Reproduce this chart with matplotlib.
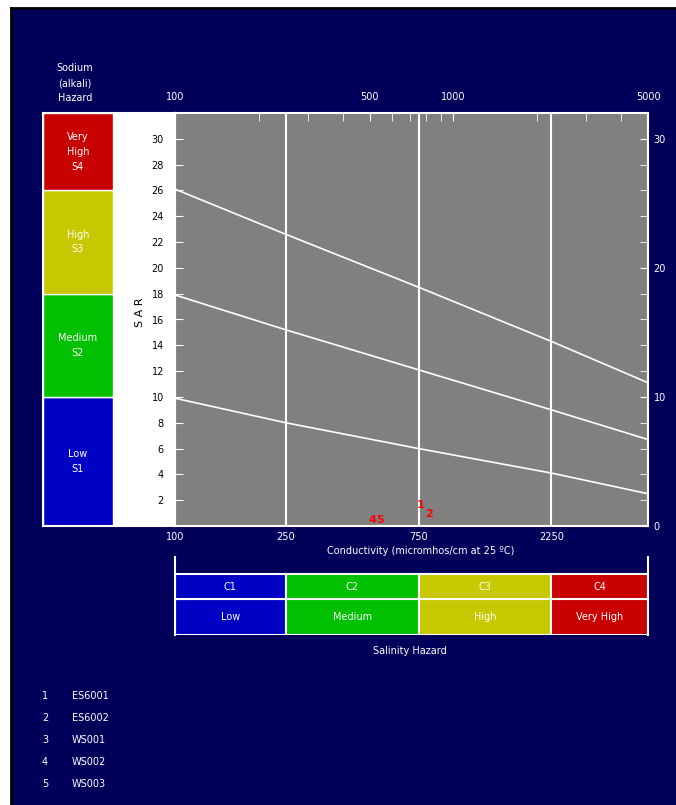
import numpy as np
import matplotlib
matplotlib.use("Agg")
import matplotlib.pyplot as plt
from matplotlib.ticker import FixedLocator, NullFormatter, NullLocator

# conductivity (micromhos/cm) where the class boundaries are read
ec_grid = [100, 250, 750, 2250, 5000]
# SAR boundary lines between sodium classes
sar_s1_s2 = [9.9, 8.0, 6.0, 4.1, 2.5]
sar_s2_s3 = [17.9, 15.2, 12.1, 9.0, 6.7]
sar_s3_s4 = [26.1, 22.6, 18.5, 14.3, 11.1]

sodium_bounds = [0, 10, 18, 26, 32]
sodium_labels = ["Low\nS1", "Medium\nS2", "High\nS3", "Very\nHigh\nS4"]
salinity_codes = ["C1", "C2", "C3", "C4"]
salinity_labels = ["Low", "Medium", "High", "Very High"]
hazard_colors = ["#0000c4", "#00c000", "#c8c800", "#c80000"]

sample_ids = ["1", "2", "3", "4", "5"]
sample_names = ["ES6001", "ES6002", "WS001", "WS002", "WS003"]
sample_ec = [760, 815, np.nan, 510, 545]
sample_sar = [1.6, 0.9, np.nan, 0.5, 0.5]

navy = "#00005a"
gray = "#808080"
W, H = 676, 805
plt.rcParams["font.family"] = "DejaVu Sans"
plt.rcParams["font.size"] = 7


def box(x0, y0, x1, y1):
    # pixel box (top-left origin) -> figure fraction rect
    return [x0 / W, 1 - y1 / H, (x1 - x0) / W, (y1 - y0) / H]


fig = plt.figure(figsize=(W / 100, H / 100), dpi=100, facecolor="white")
bg = fig.add_axes(box(11, 8, W, H))
bg.set_facecolor(navy)
bg.set_xticks([])
bg.set_yticks([])
for s in ["left", "top"]:
    bg.spines[s].set_color("black")
    bg.spines[s].set_linewidth(2)
for s in ["right", "bottom"]:
    bg.spines[s].set_visible(False)

# sodium hazard panel on the left
pan = fig.add_axes(box(43, 113, 175, 526))
pan.set_facecolor("white")
pan.set_xlim(0, 1)
pan.set_ylim(0, 32)
pan.set_xticks([])
pan.set_yticks([])
for s in pan.spines.values():
    s.set_color("white")
    s.set_linewidth(1.5)
for i, lab in enumerate(sodium_labels):
    lo, hi = sodium_bounds[i], sodium_bounds[i + 1]
    pan.bar(0, hi - lo, bottom=lo, width=0.53, align="edge",
            color=hazard_colors[i], edgecolor="white", linewidth=1)
    pan.text(0.265, (lo + hi) / 2, lab, color="white", ha="center", va="center",
             fontsize=7, linespacing=1.6)
fig.text(75 / W, 1 - 83 / H, "Sodium\n(alkali)\nHazard", color="white",
         ha="center", va="center", fontsize=7, linespacing=1.6)

# main diagram
ax = fig.add_axes(box(175, 113, 648, 526))
ax.set_facecolor(gray)
ax.set_xscale("log")
ax.set_xlim(100, 5000)
ax.set_ylim(0, 32)
for s in ax.spines.values():
    s.set_color("white")
    s.set_linewidth(1.5)

for sar in (sar_s1_s2, sar_s2_s3, sar_s3_s4):
    ax.plot(ec_grid, sar, color="white", lw=1.2)

ax.xaxis.set_major_locator(FixedLocator(ec_grid[:-1]))
ax.xaxis.set_minor_locator(NullLocator())
ax.set_xticklabels([str(v) for v in ec_grid[:-1]])
ax.tick_params(axis="x", length=0, colors="white", labelsize=7, pad=4)
ax.grid(axis="x", which="major", color="white", lw=1.5)

ax.set_yticks(np.arange(2, 31, 2))
ax.tick_params(axis="y", direction="in", length=6, color="white",
               labelcolor="black", labelsize=7, pad=8)

for sid, ec, sar in zip(sample_ids, sample_ec, sample_sar):
    if np.isfinite(ec):
        ax.text(ec, sar, sid, color="red", fontsize=8, fontweight="bold",
                ha="center", va="center")

top = ax.twiny()
top.set_xscale("log")
top.set_xlim(100, 5000)
top.xaxis.set_major_locator(FixedLocator([100, 500, 1000, 5000]))
top.xaxis.set_minor_locator(FixedLocator([200, 300, 400, 600, 700, 800, 900,
                                          2000, 3000, 4000]))
top.xaxis.set_minor_formatter(NullFormatter())
top.set_xticklabels(["100", "500", "1000", "5000"])
top.tick_params(axis="x", which="both", direction="in", length=6, color="white",
                labelcolor="white", labelsize=7, pad=8)
for s in top.spines.values():
    s.set_visible(False)

right = ax.twinx()
right.set_ylim(0, 32)
right.yaxis.set_major_locator(FixedLocator([0, 10, 20, 30]))
right.yaxis.set_minor_locator(FixedLocator(np.arange(2, 31, 2)))
right.tick_params(axis="y", which="both", direction="in", length=6, color="white",
                  labelcolor="white", labelsize=7, pad=4)
for s in right.spines.values():
    s.set_visible(False)

fig.text(140 / W, 1 - 312 / H, "S A R", rotation=90, color="black",
         ha="center", va="center", fontsize=8)
fig.text(421 / W, 1 - 551 / H, "Conductivity (micromhos/cm at 25 \u00baC)",
         color="white", ha="center", va="center", fontsize=7)

# salinity hazard table
tab = fig.add_axes(box(175, 557, 648, 635))
tab.patch.set_alpha(0)
tab.set_xscale("log")
tab.set_xlim(100, 5000)
tab.set_ylim(0, 78)
tab.set_xticks([])
tab.set_xticks([], minor=True)
tab.set_yticks([])
tab.spines["top"].set_visible(False)
tab.spines["bottom"].set_visible(False)
for s in ["left", "right"]:
    tab.spines[s].set_color("white")
    tab.spines[s].set_linewidth(1.5)
for i in range(4):
    x0, x1 = ec_grid[i], ec_grid[i + 1]
    tab.bar(x0, 36, bottom=0, width=x1 - x0, align="edge",
            color=hazard_colors[i], edgecolor="white", linewidth=1.5)
    tab.bar(x0, 25, bottom=36, width=x1 - x0, align="edge",
            color=hazard_colors[i], edgecolor="white", linewidth=1.5)
    xc = np.sqrt(x0 * x1)
    tab.text(xc, 48.5, salinity_codes[i], color="white", ha="center",
             va="center", fontsize=7)
    tab.text(xc, 18, salinity_labels[i], color="white", ha="center",
             va="center", fontsize=7)
fig.text(410 / W, 1 - 651 / H, "Salinity Hazard", color="white",
         ha="center", va="center", fontsize=7)

# sample legend
for k, (sid, name) in enumerate(zip(sample_ids, sample_names)):
    y = 1 - (696 + 22 * k) / H
    fig.text(45 / W, y, sid, color="white", ha="center", va="center", fontsize=7)
    fig.text(72 / W, y, name, color="white", ha="left", va="center", fontsize=7)

fig.savefig("out.png", dpi=100, facecolor="white")
